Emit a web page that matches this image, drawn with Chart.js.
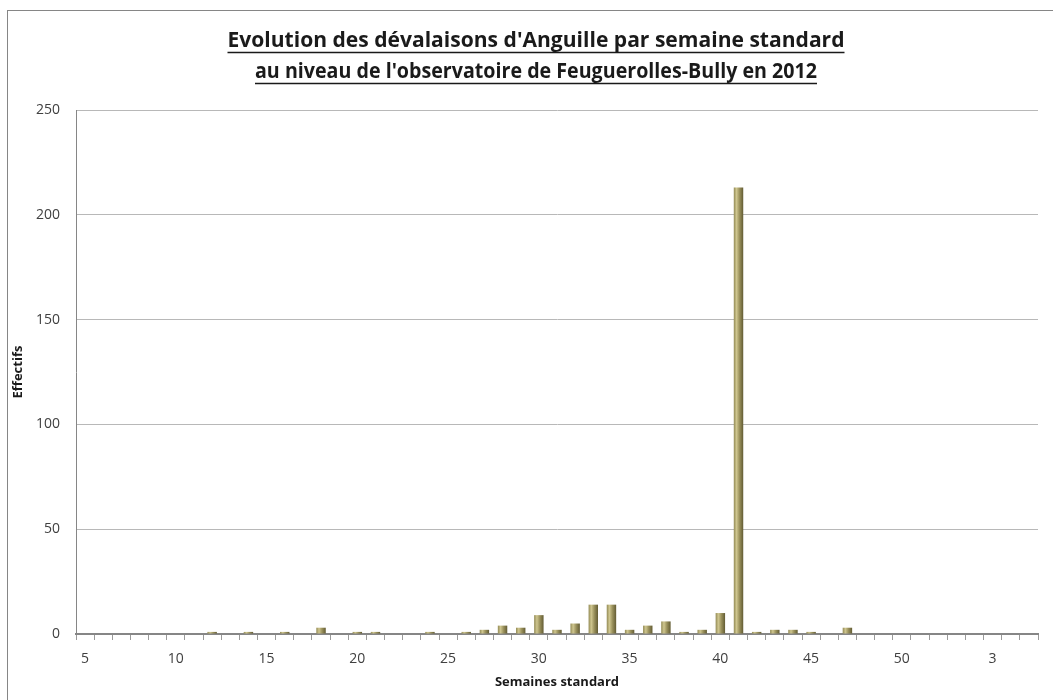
<!DOCTYPE html>
<html>
<head>
<meta charset="utf-8">
<script src="https://cdn.jsdelivr.net/npm/chart.js@4"></script>
<style>
  body { margin: 0; background: #fff; overflow: hidden; }
  #cadre { position: absolute; left: 7px; top: 10px; width: 1100px; height: 750px; border: 1px solid #868686; }
  #graph { position: absolute; left: 0; top: 0; }
</style>
</head>
<body>
<div id="cadre"></div>
<canvas id="graph" width="1053" height="700"></canvas>
<script>
// semaines standard (de la 5 a la 52 puis debut 2013)
const semaines = [5, 6, 7, 8, 9, 10, 11, 12, 13, 14, 15, 16, 17, 18, 19, 20, 21, 22, 23, 24, 25, 26, 27, 28,
  29, 30, 31, 32, 33, 34, 35, 36, 37, 38, 39, 40, 41, 42, 43, 44, 45, 46, 47, 48, 49, 50, 51, 52, 1, 2, 3, 4, 5];
// effectifs d'anguilles comptes
const effectifs = [0, 0, 0, 0, 0, 0, 0, 1, 0, 1, 0, 1, 0, 3, 0, 1, 1, 0, 0, 1, 0, 1, 2, 4,
  3, 9, 2, 5, 14, 14, 2, 4, 6, 1, 2, 10, 213, 1, 2, 2, 1, 0, 3, 0, 0, 0, 0, 0, 0, 0, 0, 0, 0];
const yTicks = [0, 50, 100, 150, 200, 250];

const titre = [
  "Evolution des dévalaisons d'Anguille par semaine standard",
  "au niveau de l'observatoire de Feuguerolles-Bully en 2012"
];

// degrade facon cylindre Excel
function couleurBarre(ctx) {
  const chart = ctx.chart;
  const x = chart.scales.x;
  if (!x || ctx.dataIndex === undefined) return '#9c9360';
  const c = x.getPixelForValue(ctx.dataIndex);
  if (!isFinite(c)) return '#9c9360';
  const w = 5;
  const g = chart.ctx.createLinearGradient(c - w, 0, c + w, 0);
  g.addColorStop(0, '#8c844f');
  g.addColorStop(0.3, '#cfc68f');
  g.addColorStop(0.6, '#9a915c');
  g.addColorStop(1, '#5e5730');
  return g;
}

// titre souligne sur deux lignes
const titrePlugin = {
  id: 'titreSouligne',
  afterDraw(chart) {
    const ctx = chart.ctx;
    const lignes = [
      { txt: titre[0], y: 47, w: 617 },
      { txt: titre[1], y: 78, w: 562 }
    ];
    ctx.save();
    ctx.fillStyle = '#1a1a1a';
    ctx.strokeStyle = '#1a1a1a';
    ctx.font = 'bold 21px "Open Sans"';
    ctx.textBaseline = 'alphabetic';
    ctx.textAlign = 'center';
    lignes.forEach(l => {
      const m = ctx.measureText(l.txt).width;
      ctx.save();
      ctx.translate(536, l.y);
      ctx.scale(l.w / m, 1);
      ctx.fillText(l.txt, 0, 0);
      ctx.restore();
      ctx.lineWidth = 1.5;
      ctx.beginPath();
      ctx.moveTo(536 - l.w / 2, l.y + 5.5);
      ctx.lineTo(536 + l.w / 2, l.y + 5.5);
      ctx.stroke();
    });
    ctx.restore();
  }
};

new Chart(document.getElementById('graph'), {
  type: 'bar',
  data: {
    labels: semaines,
    datasets: [{
      label: 'Effectifs',
      data: effectifs,
      backgroundColor: couleurBarre,
      borderWidth: 0,
      barPercentage: 0.52,
      categoryPercentage: 1
    }]
  },
  options: {
    responsive: false,
    devicePixelRatio: 1,
    animation: false,
    layout: { padding: { top: 110, right: 15, bottom: 0, left: 0 } },
    plugins: {
      legend: { display: false },
      tooltip: { enabled: false }
    },
    scales: {
      x: {
        afterFit: s => { s.height = 66; },
        grid: { display: true, drawOnChartArea: false, drawTicks: true, tickLength: 6, color: '#9a9a9a' },
        border: { display: true, color: '#868686', width: 2 },
        ticks: {
          autoSkip: false, maxRotation: 0, padding: 11,
          color: '#404040', font: { family: 'Open Sans', size: 14 },
          callback: (v, i) => i % 5 === 0 ? semaines[i] : ''
        },
        title: {
          display: true, text: 'Semaines standard', color: '#1a1a1a',
          font: { family: 'Open Sans', size: 13, weight: 'bold' },
          padding: { top: 0, bottom: 10 }
        }
      },
      y: {
        min: 0, max: 250,
        afterFit: s => { s.width = 76; },
        afterBuildTicks: s => { s.ticks = yTicks.map(v => ({ value: v })); },
        grid: { color: '#b8b8b8', drawTicks: false },
        border: { display: true, color: '#868686', width: 1 },
        ticks: { padding: 16, color: '#404040', font: { family: 'Open Sans', size: 14 } },
        title: {
          display: true, text: 'Effectifs', color: '#1a1a1a',
          font: { family: 'Open Sans', size: 13, weight: 'bold' },
          padding: { top: 10, bottom: 0 }
        }
      }
    }
  },
  plugins: [titrePlugin]
});
</script>
</body>
</html>
